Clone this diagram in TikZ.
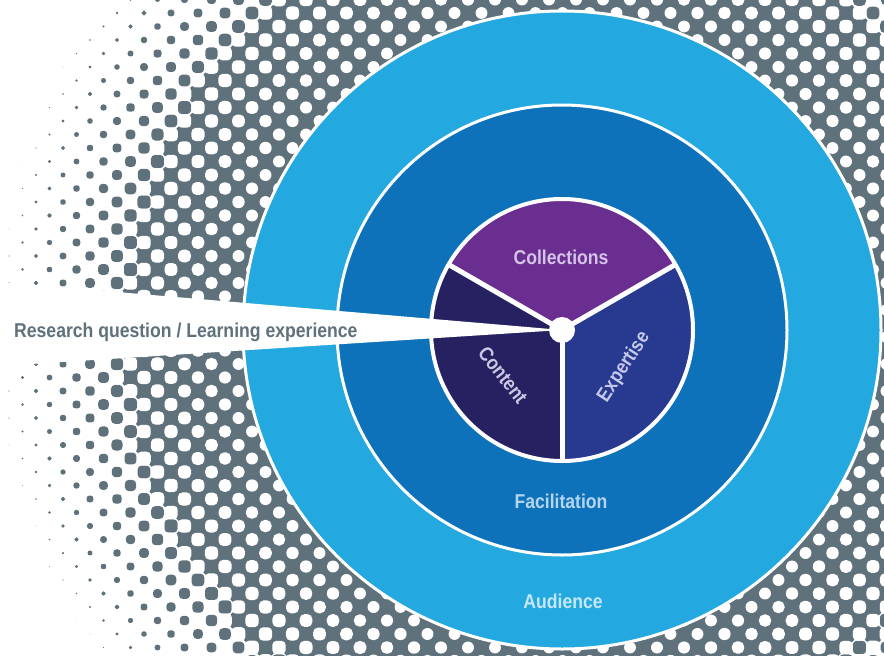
\documentclass[tikz,border=0pt]{standalone}
\usepackage{fontspec}
\setmainfont[FakeStretch=0.88]{Liberation Sans}
\definecolor{dotgray}{HTML}{5F717B}
\definecolor{audienceblue}{HTML}{23A8E0}
\definecolor{facilblue}{HTML}{0D72B9}
\definecolor{collpurple}{HTML}{6A2D90}
\definecolor{expertblue}{HTML}{283A8F}
\definecolor{contentnavy}{HTML}{262262}
\definecolor{colltext}{HTML}{D6C4E8}
\definecolor{experttext}{HTML}{C4C8EA}
\definecolor{contenttext}{HTML}{CAC6E4}
\definecolor{facilitext}{HTML}{B4D5F0}
\definecolor{audiencetext}{HTML}{C6E7F8}

\newcommand\htdark[2]{%
  \pgfmathsetmacro\htd{100*veclen((#1-562)/100,(#2-330)/100)}%
  \ifdim\htd pt<435pt
    \ifdim\htd pt>300pt
      \fill[dotgray] (#1-14,#2) -- (#1,#2-14) -- (#1+14,#2) -- (#1,#2+14) -- cycle;
    \fi
  \else\ifdim\htd pt<566pt
    \pgfmathsetmacro\hts{0.1*(570-\htd)}%
    \pgfmathsetmacro\htr{\hts/2*(1-0.4*\hts/13.5)}%
    \fill[dotgray,rounded corners=\htr pt] (#1-\hts/2,#2-\hts/2) rectangle ++(\hts,\hts);
  \fi\fi}
\newcommand\htwhite[2]{%
  \pgfmathsetmacro\htd{100*veclen((#1-562)/100,(#2-330)/100)}%
  \ifdim\htd pt<450pt\ifdim\htd pt>300pt
    \pgfmathsetmacro\hts{13.5-0.015*(435-\htd)}%
    \pgfmathsetmacro\htr{min(\hts/2,4+0.02*(435-\htd))}%
    \fill[white,rounded corners=\htr pt] (#1-\hts/2,#2-\hts/2) rectangle ++(\hts,\hts);
  \fi\fi}

\begin{document}
\begin{tikzpicture}[x=1pt,y=-1pt,
    ringtext/.style={font=\bfseries\fontsize{20}{24}\selectfont,inner sep=0pt},
    slicetext/.style={font=\bfseries\fontsize{20}{24}\selectfont,inner sep=0pt},
    divider/.style={white,line width=5pt}]
  \useasboundingbox (0,0) rectangle (884,656);
  \coordinate (c) at (562,330);
  \begin{scope}
    \clip (0,0) rectangle (884,656);
    \foreach \i in {-1,...,33}{
      \foreach \j in {-1,...,24}{
        \pgfmathsetmacro\ax{9+27*\i}\pgfmathsetmacro\ay{13+27*\j}
        \pgfmathsetmacro\bx{22.5+27*\i}\pgfmathsetmacro\by{26.5+27*\j}
        \htdark{\ax}{\ay}
        \htdark{\bx}{\by}
      }
    }
    \foreach \i in {-1,...,33}{
      \foreach \j in {-1,...,24}{
        \pgfmathsetmacro\ax{22.5+27*\i}\pgfmathsetmacro\ay{13+27*\j}
        \pgfmathsetmacro\bx{9+27*\i}\pgfmathsetmacro\by{26.5+27*\j}
        \htwhite{\ax}{\ay}
        \htwhite{\bx}{\by}
      }
    }
  \end{scope}
  \draw[white,line width=3pt,fill=audienceblue] (c) circle[radius=319];
  \draw[white,line width=3pt,fill=facilblue] (c) circle[radius=225];
  \fill[collpurple] (c) -- ++(-30:131) arc[start angle=-30,end angle=-150,radius=131] -- cycle;
  \fill[expertblue] (c) -- ++(90:131) arc[start angle=90,end angle=-30,radius=131] -- cycle;
  \fill[contentnavy] (c) -- ++(-150:131) arc[start angle=-150,end angle=-270,radius=131] -- cycle;
  \draw[white,line width=4pt] (c) circle[radius=131];
  \draw[divider] (c) -- ++(-30:131);
  \draw[divider] (c) -- ++(-150:131);
  \draw[divider] (c) -- ++(90:131);
  \fill[white] (0,282) -- (0,366) -- (c) -- cycle;
  \fill[white] (c) circle[radius=13];
  \node[slicetext,text=colltext,anchor=base] (collections) at (561,264) {Collections};
  \node[slicetext,text=experttext,rotate=57] (expertise) at (624,367) {Expertise};
  \node[slicetext,text=contenttext,rotate=-52] (content) at (503,375) {Content};
  \node[ringtext,text=facilitext,anchor=base] (facilitation) at (561,508) {Facilitation};
  \node[ringtext,text=audiencetext,anchor=base] (audience) at (563,608) {Audience};
  \node[ringtext,text=dotgray,anchor=base west] (question) at (14,337) {Research question / Learning experience};
\end{tikzpicture}
\end{document}
